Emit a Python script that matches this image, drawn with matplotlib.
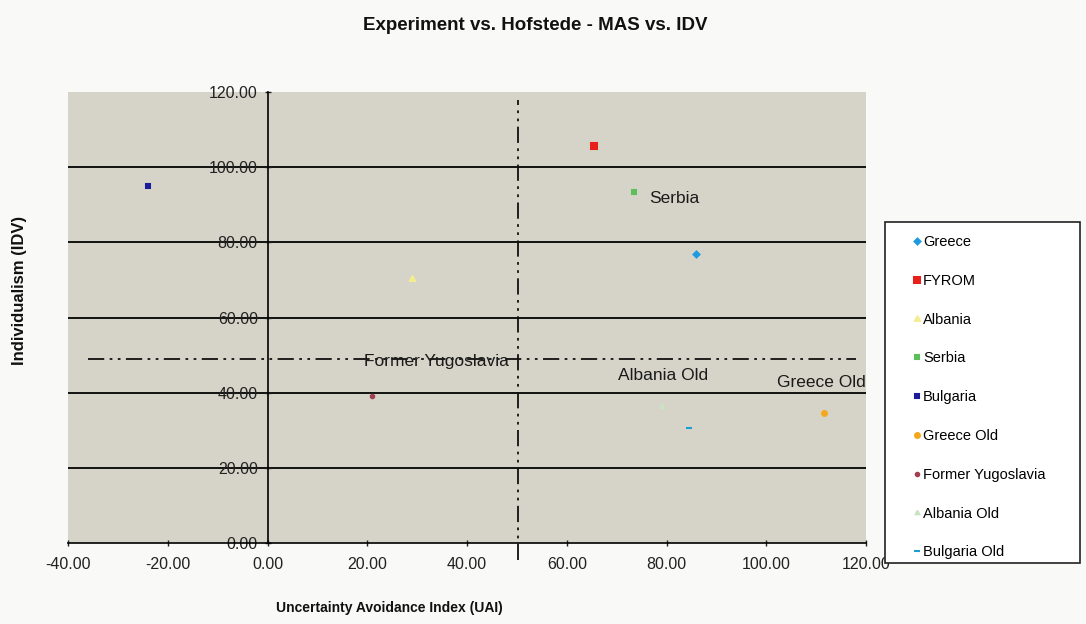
import matplotlib.pyplot as plt
from matplotlib.lines import Line2D
from matplotlib.patches import Rectangle

plt.rcParams['font.family'] = ['Liberation Sans', 'DejaVu Sans']

# === Data ===
countries = ['Greece', 'FYROM', 'Albania', 'Serbia', 'Bulgaria',
             'Greece Old', 'Former Yugoslavia', 'Albania Old', 'Bulgaria Old']
uai = [86, 65.5, 29, 73.5, -24, 111.5, 21, 79, 84.5]
idv = [77, 105.5, 70.5, 93.5, 95, 34.5, 39, 36.5, 30.5]
markers = ['D', 's', '^', 's', 's', 'o', 'o', '^', '_']
colors = ['#1e9be0', '#e8201c', '#f3ee8c', '#5cbf5c', '#1c1c9a',
          '#f5a81c', '#a04050', '#c9e3c0', '#1a9fd0']
sizes = [3, 4, 3.5, 2.5, 3, 3.5, 2.5, 2.5, 4]

# labelled points and label offsets (points)
labels = {'Serbia': (11, -5, 'left'),
          'Former Yugoslavia': (46, 25, 'center'),
          'Albania Old': (1, 22, 'center'),
          'Greece Old': (-1.5, 22, 'center')}

mean_uai = 50.3
mean_idv = 49

fig = plt.figure(figsize=(10.86, 6.24), dpi=100, facecolor='#f9f9f7')
ax = fig.add_axes([68 / 1086, 1 - 543 / 624, 798 / 1086, 451 / 624])
ax.set_facecolor('#d6d4c8')

ax.set_xlim(-40, 120)
ax.set_ylim(0, 120)
ax.set_xticks(range(-40, 121, 20))
ax.set_yticks(range(0, 121, 20))
ax.xaxis.set_major_formatter(lambda v, p: '%.2f' % v)
ax.yaxis.set_major_formatter(lambda v, p: '%.2f' % v)

for s in ['top', 'right']:
    ax.spines[s].set_visible(False)
ax.spines['left'].set_position(('data', 0))
ax.spines['left'].set_linewidth(1.2)
ax.spines['bottom'].set_linewidth(1.2)
ax.tick_params(axis='both', labelsize=11.5, colors='#222222', length=4, width=1)
ax.tick_params(axis='x', direction='inout', pad=8)
ax.tick_params(axis='y', direction='inout', pad=5)

for yv in range(20, 101, 20):
    ax.axhline(yv, color='#111111', lw=1.4, zorder=1)

dashdotdot = (0, (9, 3, 1.5, 3, 1.5, 3))
ax.plot([-36, 118], [mean_idv, mean_idv], color='#111111', lw=1.3,
        linestyle=dashdotdot, zorder=2)
ax.plot([mean_uai, mean_uai], [-4.5, 118], color='#111111', lw=1.3,
        linestyle=dashdotdot, zorder=2, clip_on=False)

handles = []
for i, name in enumerate(countries):
    ax.plot(uai[i], idv[i], linestyle='none', marker=markers[i], color=colors[i],
            markersize=sizes[i], markeredgewidth=1.5, zorder=4)
    handles.append(Line2D([], [], linestyle='none', marker=markers[i], color=colors[i],
                          markersize=sizes[i], markeredgewidth=1.5))

for name, (dx, dy, ha) in labels.items():
    i = countries.index(name)
    ax.annotate(name, (uai[i], idv[i]), xytext=(dx, dy), textcoords='offset points',
                ha=ha, va='center', fontsize=12.5, color='#1a1a1a', zorder=5)

fig.text(535 / 1086, 1 - 26 / 624, 'Experiment vs. Hofstede - MAS vs. IDV', ha='center',
         va='center', fontsize=13.5, fontweight='bold', color='#111111')
fig.text(389 / 1086, 1 - 608 / 624, 'Uncertainty Avoidance Index (UAI)', ha='center',
         va='center', fontsize=10, fontweight='bold', color='#111111')
fig.text(20 / 1086, 1 - 290 / 624, 'Individualism (IDV)', ha='center', va='center',
         rotation=90, fontsize=12, fontweight='bold', color='#111111')

# legend frame drawn separately so the entries can sit inside it freely
fig.patches.append(Rectangle((885 / 1086, 1 - 563 / 624), 195 / 1086, 341 / 624,
                             transform=fig.transFigure, facecolor='white',
                             edgecolor='#222222', linewidth=1.2, zorder=0))
leg = fig.legend(handles, countries, loc='upper left',
                 bbox_to_anchor=(913 / 1086, 1 - 235 / 624),
                 borderaxespad=0, fontsize=10.5, labelspacing=1.7,
                 handlelength=0.5, handletextpad=0.2, borderpad=0,
                 frameon=False)

fig.savefig('out.png', dpi=100, facecolor=fig.get_facecolor())
